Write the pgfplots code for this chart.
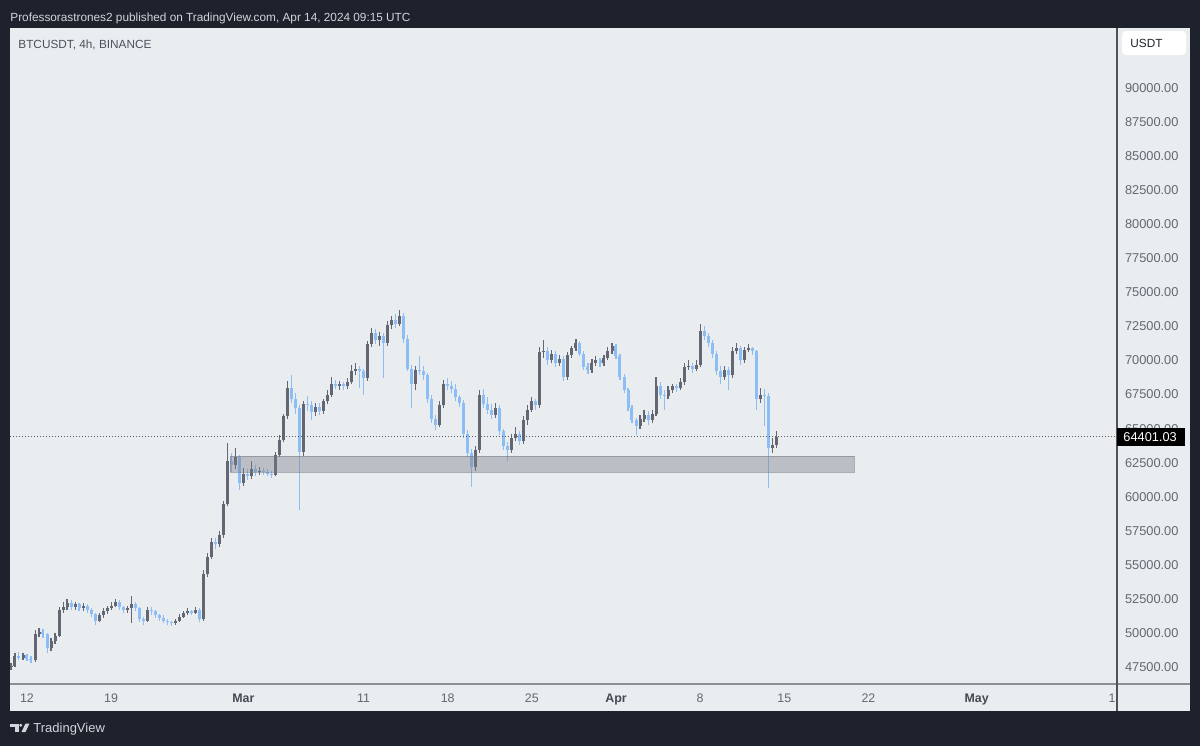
\documentclass[border=0pt]{standalone}
\usepackage{pgfplots}
\pgfplotsset{compat=1.18}
\usepackage{pgfplotstable}
\usepackage{fontspec}
\setmainfont{Liberation Sans}

\definecolor{tvdark}{RGB}{30,34,44}
\definecolor{panel}{RGB}{233,237,240}
\definecolor{toptext}{RGB}{210,213,220}
\definecolor{titlec}{RGB}{76,80,90}
\definecolor{ticktext}{RGB}{100,103,112}
\definecolor{monthtext}{RGB}{70,73,82}
\definecolor{vsep}{RGB}{80,82,90}
\definecolor{hsep}{RGB}{140,143,150}
\definecolor{upc}{RGB}{100,103,113}
\definecolor{dnc}{RGB}{140,190,245}
\definecolor{zonec}{RGB}{120,123,134}
\definecolor{dotlc}{RGB}{90,92,100}

% 8h candles, x in days from Feb 12 2024
\pgfplotstableread{
x o h l c
-1.33 47500 47800 47300 47600
-1.00 47600 48500 47500 48300
-0.67 48300 48600 48000 48200
-0.33 48200 48500 48000 48350
0.00 48350 48450 47950 48100
0.33 48100 48300 47800 48000
0.67 48000 50200 47900 49900
1.00 49900 50400 49700 50100
1.33 50100 50300 49600 49900
1.67 49900 50000 48500 48900
2.00 48900 49600 48700 49400
2.33 49400 50000 49200 49800
2.67 49800 51900 49700 51700
3.00 51700 52300 51500 51900
3.33 51900 52500 51700 52200
3.67 52200 52400 51700 51900
4.00 51900 52300 51700 52100
4.33 52100 52200 51600 51800
4.67 51800 52200 51600 52000
5.00 52000 52100 51500 51700
5.33 51700 51800 51200 51400
5.67 51400 51500 50600 50900
6.00 50900 51500 50800 51300
6.33 51300 51800 51100 51600
6.67 51600 52000 51400 51800
7.00 51800 52300 51700 52000
7.33 52000 52500 51900 52250
7.67 52250 52400 51700 51900
8.00 51900 52000 51500 51700
8.33 51700 52000 51500 51800
8.67 51800 52700 50700 52100
9.00 52100 52300 51600 51800
9.33 51800 51900 50800 51000
9.67 51000 51200 50600 50900
10.00 50900 51900 50800 51700
10.33 51700 51900 51300 51600
10.67 51600 51700 51100 51300
11.00 51300 51400 50900 51100
11.33 51100 51300 50700 50900
11.67 50900 51000 50600 50800
12.00 50800 50900 50500 50700
12.33 50700 51000 50600 50900
12.67 50900 51400 50800 51200
13.00 51200 51600 51100 51500
13.33 51500 51800 51300 51600
13.67 51600 51700 51300 51500
14.00 51500 51900 51400 51700
14.33 51700 51800 50800 51000
14.67 51000 54600 50900 54300
15.00 54300 55900 54100 55600
15.33 55600 57000 55400 56700
15.67 56700 57000 56200 56500
16.00 56500 57500 56300 57200
16.33 57200 59700 57000 59500
16.67 59500 63950 59300 62600
17.00 62600 63200 61800 62300
17.33 62300 63600 62000 62900
17.67 62900 63100 60500 61000
18.00 61000 62100 60800 61700
18.33 61700 62000 61200 61500
18.67 61500 62600 61300 62000
19.00 62000 62300 61500 61800
19.33 61800 62200 61600 61900
19.67 61900 62100 61600 61850
20.00 61850 62000 61500 61700
20.33 61700 61900 61400 61600
20.67 61600 63300 61500 63100
21.00 63100 64500 62900 64200
21.33 64200 66100 64000 65900
21.67 65900 68500 65700 68000
22.00 68000 68900 66900 67200
22.33 67200 67600 66100 66500
22.67 66500 66700 59000 63300
23.00 63300 67000 63000 66800
23.33 66800 67400 66300 66700
23.67 66700 67000 65600 66200
24.00 66200 66900 65900 66600
24.33 66600 66900 66000 66300
24.67 66300 67200 66100 67000
25.00 67000 67800 66800 67500
25.33 67500 68800 67300 68300
25.67 68300 68600 67900 68100
26.00 68100 68500 67800 68250
26.33 68250 68400 67800 68100
26.67 68100 68700 67900 68400
27.00 68400 69700 68300 69200
27.33 69200 69800 68900 69400
27.67 69400 69600 68000 69200
28.00 69200 69400 67500 68700
28.33 68700 71400 68500 71200
28.67 71200 72400 71000 72000
29.00 72000 72300 71200 71500
29.33 71500 72100 71100 71800
29.67 71800 72000 68700 71300
30.00 71300 72900 71100 72600
30.33 72600 73300 72300 73000
30.67 73000 73400 72400 72700
31.00 72700 73700 72500 73300
31.33 73300 73500 71300 71600
31.67 71600 71900 69200 69400
32.00 69400 69700 66500 68300
32.33 68300 69600 67800 69300
32.67 69300 70300 68900 69200
33.00 69200 69600 68600 68900
33.33 68900 69100 66900 67200
33.67 67200 67500 65400 65700
34.00 65700 66000 64900 65300
34.33 65300 67000 65100 66700
34.67 66700 68600 66500 68300
35.00 68300 68700 67800 68100
35.33 68100 68500 67600 67900
35.67 67900 68300 67000 67300
36.00 67300 67500 66600 66900
36.33 66900 67100 64300 64600
36.67 64600 64900 62900 63200
37.00 63200 63500 60700 62200
37.33 62200 63700 61900 63400
37.67 63400 67800 63200 67500
38.00 67500 67900 66500 66800
38.33 66800 67300 66100 66400
38.67 66400 66800 65700 66000
39.00 66000 66900 65800 66500
39.33 66500 66700 64500 64800
39.67 64800 65000 63400 63700
40.00 63700 64000 62600 63400
40.33 63400 64600 63200 64300
40.67 64300 65100 64100 64600
41.00 64600 64800 63800 64100
41.33 64100 65900 63900 65600
41.67 65600 66700 65300 66400
42.00 66400 67300 66200 67000
42.33 67000 67200 66400 66700
42.67 66700 71000 66500 70600
43.00 70600 71500 70200 70700
43.33 70700 71000 69700 70000
43.67 70000 70800 69800 70500
44.00 70500 70700 69500 69800
44.33 69800 70400 69600 70100
44.67 70100 70300 68500 68800
45.00 68800 70600 68600 70400
45.33 70400 71100 70200 70900
45.67 70900 71600 70700 71300
46.00 71300 71400 70300 70500
46.33 70500 70700 69300 69500
46.67 69500 69800 69000 69300
47.00 69300 70100 69100 69800
47.33 69800 70300 69600 70000
47.67 70000 70200 69500 69800
48.00 69800 70400 69600 70200
48.33 70200 71000 70000 70700
48.67 70700 71300 70500 71100
49.00 71100 71200 70100 70300
49.33 70300 70500 68600 68800
49.67 68800 69000 67600 67800
50.00 67800 68000 66300 66500
50.33 66500 66700 65400 65600
50.67 65600 65800 64500 65200
51.00 65200 66000 65000 65700
51.33 65700 66400 65500 66000
51.67 66000 66300 65300 65600
52.00 65600 66400 65400 66100
52.33 66100 68800 65900 68100
52.67 68100 68400 67200 67500
53.00 67500 67800 66400 67400
53.33 67400 68100 67200 67800
53.67 67800 68300 67600 68100
54.00 68100 68300 67700 68000
54.33 68000 68700 67800 68400
54.67 68400 69800 68200 69500
55.00 69500 70000 69300 69600
55.33 69600 69800 69100 69400
55.67 69400 70000 69200 69700
56.00 69700 72700 69500 72200
56.33 72200 72500 71500 71800
56.67 71800 72000 71000 71300
57.00 71300 71500 70200 70500
57.33 70500 70700 68900 69200
57.67 69200 69600 68300 68800
58.00 68800 69600 68600 69300
58.33 69300 69500 67800 68900
58.67 68900 71000 68700 70700
59.00 70700 71300 70500 70900
59.33 70900 71100 69700 70000
59.67 70000 71000 69800 70800
60.00 70800 71200 70600 70900
60.33 70900 71000 70400 70700
60.67 70700 70800 66400 67200
61.00 67200 68000 66900 67500
61.33 67500 67900 65200 67400
61.67 67400 67600 60650 63600
62.00 63600 64300 63200 63800
62.33 63800 64800 63600 64401
}\candles

\pgfplotsset{
  candlebar/.style n args={2}{draw=none, no markers, forget plot,
    error bars/.cd, y dir=plus, y explicit, error mark=none,
    error bar style={line width=#2, draw=#1, solid}},
}

\begin{document}
\begin{tikzpicture}
\useasboundingbox (0,0) rectangle (600pt,-373pt);
\begin{scope}[x=0.5pt,y=-0.5pt]
\fill[tvdark] (0,0) rectangle (1200,746);
\fill[panel] (10,28) rectangle (1190,711);
\node[anchor=base west, text=toptext, inner sep=0pt, font=\fontsize{5.9}{7}\selectfont]
  at (10,21) {Professorastrones2 published on TradingView.com, Apr 14, 2024 09:15 UTC};
\node[anchor=base west, text=titlec, inner sep=0pt, font=\fontsize{5.9}{7}\selectfont]
  at (18,48) {BTCUSDT, 4h, BINANCE};
\end{scope}

\begin{axis}[
  at={(5pt,-342pt)}, anchor=south west,
  scale only axis, width=553.5pt, height=328pt,
  xmin=-1.414, xmax=90.68, ymin=46254, ymax=94404,
  axis line style={draw=none},
  major tick length=0pt,
  xtick={0,7,18,28,35,42,49,56,63,70,79,90.55},
  xticklabels={12,19,{\textbf{\color{monthtext}Mar}},11,18,25,{\textbf{\color{monthtext}Apr}},8,15,22,{\textbf{\color{monthtext}May}},13},
  xticklabel style={anchor=base, yshift=-9.4pt, text=ticktext, font=\fontsize{6.2}{7}\selectfont},
  ytick={47500,50000,...,90000},
  yticklabel pos=right,
  scaled y ticks=false,
  yticklabel style={anchor=west, xshift=0.5pt, text=ticktext, font=\fontsize{6.4}{7}\selectfont,
    /pgf/number format/.cd, fixed, fixed zerofill, precision=2, 1000 sep={}, assume math mode=true},
]
% wicks
\addplot[candlebar={upc}{0.55pt}]
  table[x=x, y=l, y error plus expr={(\thisrow{c}>=\thisrow{o})*(\thisrow{h}-\thisrow{l})}] {\candles};
\addplot[candlebar={dnc}{0.55pt}]
  table[x=x, y=l, y error plus expr={(\thisrow{c}<\thisrow{o})*(\thisrow{h}-\thisrow{l})}] {\candles};
% bodies
\addplot[candlebar={upc}{1.5pt}]
  table[x=x, y=o, y error plus expr={max(\thisrow{c}-\thisrow{o},0)}] {\candles};
\addplot[candlebar={dnc}{1.5pt}]
  table[x=x, y=c, y error plus expr={max(\thisrow{o}-\thisrow{c},0)}] {\candles};
% support zone
\addplot[fill=zonec, fill opacity=0.4, draw=zonec, draw opacity=0.55, line width=0.5pt]
  coordinates {(16.9,61790) (68.8,61790) (68.8,62990) (16.9,62990)} -- cycle;
% last price line
\addplot[dotlc, line width=0.5pt, dash pattern=on 0.5pt off 1pt]
  coordinates {(-1.414,64401.03) (90.68,64401.03)};
\end{axis}

\begin{scope}[x=0.5pt,y=-0.5pt]
\fill[panel] (1117.5,685) rectangle (1190,711);
\draw[hsep, line width=0.8pt] (10,684) -- (1190,684);
\draw[vsep, line width=0.6pt] (1117,28) -- (1117,711);
\fill[black] (1117,428) rectangle (1185,446);
\node[anchor=west, text=white, inner sep=0pt, font=\fontsize{6.4}{7}\selectfont] at (1123,437) {64401.03};
\fill[white, rounded corners=2pt] (1122,31) rectangle (1186,55);
\node[anchor=base west, text=tvdark, inner sep=0pt, font=\fontsize{5.9}{7}\selectfont] at (1130,47.5) {USDT};
% logo
\fill[toptext] (10,723.5) rectangle (18.5,726.5);
\fill[toptext] (14.5,723.5) rectangle (18.5,732);
\fill[toptext] (20.8,725.2) circle (1.6);
\fill[toptext] (21.5,732) -- (25.5,732) -- (29.5,723.5) -- (25.5,723.5) -- cycle;
\node[anchor=base west, text=toptext, inner sep=0pt, font=\fontsize{6.5}{7}\selectfont] at (33,732) {TradingView};
\end{scope}
\end{tikzpicture}
\end{document}
